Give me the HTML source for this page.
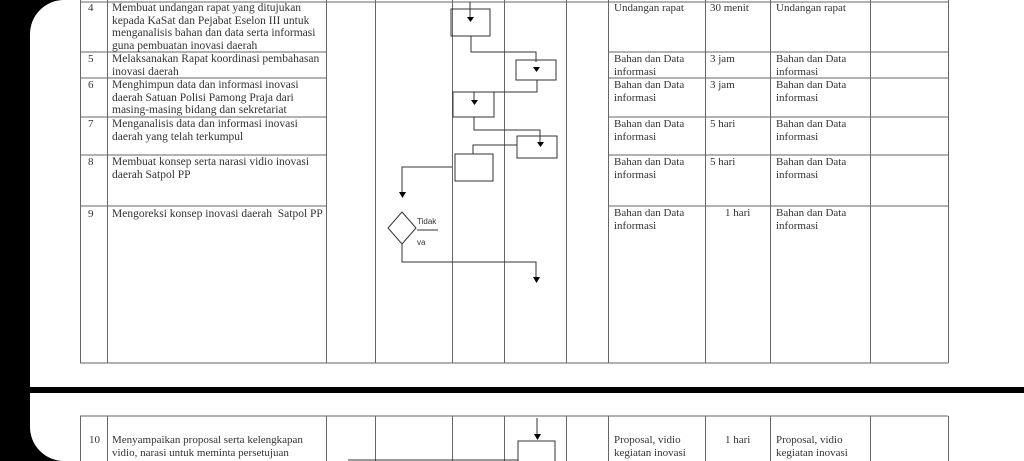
<!DOCTYPE html>
<html><head><meta charset="utf-8"><style>
html,body{margin:0;width:1024px;height:461px;overflow:hidden;}
body{background:#000;position:relative;font-family:"Liberation Serif",serif;}
.pg{position:absolute;background:#fff;}
.t{position:absolute;font-size:11px;line-height:12.5px;color:#333;white-space:nowrap;}
.l{font-size:11.5px;white-space:normal;width:212px;left:112px;}
</style></head><body>
<div class="pg" style="left:30px;top:0;width:1000px;height:387px;border-top-left-radius:34px;"></div>
<div class="pg" style="left:30px;top:393px;width:1000px;height:68px;border-bottom-left-radius:34px;"></div>
<svg width="1024" height="461" style="position:absolute;left:0;top:0" stroke="#555" stroke-width="1" fill="none">
<g stroke="#666">
<path d="M80 2H948M80 52H326M608 52H948M80 78H326M608 78H948M80 117H326M608 117H948M80 155H326M608 155H948M80 206H326M608 206H948M80 363H948"/>
<path d="M80.5 0V363M107.5 0V363M326.5 0V363M375.5 0V363M452.5 0V363M504.5 0V363M566.5 0V363M608.5 0V363M705.5 0V363M770.5 0V363M870.5 0V363M948.5 0V363"/>
<path d="M80 416H948M80.5 416V461M107.5 416V461M326.5 416V461M375.5 416V461M452.5 416V461M504.5 416V461M566.5 416V461M608.5 416V461M705.5 416V461M770.5 416V461M870.5 416V461M948.5 416V461"/>
</g>
<g stroke="#333">
<rect x="451" y="9" width="39" height="27"/>
<path d="M470 2V20M471 36V52H536V62"/>
<rect x="516" y="60" width="40" height="20"/>
<path d="M537 80V92H474V101"/>
<rect x="453" y="92" width="41" height="25"/>
<path d="M474 117V130H540V142"/>
<rect x="517" y="136" width="40" height="22"/>
<path d="M473 154V145H517"/>
<rect x="455" y="154" width="38" height="27"/>
<path d="M452 167H402V193"/>
<path d="M402 212L416 228L402 244L388 228Z"/>
<path d="M417 230H438"/>
<path d="M402 244V262H536V278"/>
<path d="M537 418V436"/>
<path d="M518 461V441H555V461M348 460H518"/>
</g>
<g fill="#000" stroke="none">
<path d="M467 17h7l-3.5 5z"/><path d="M533 67h7l-3.5 5z"/><path d="M471 100h7l-3.5 5z"/><path d="M537 142h7l-3.5 5z"/><path d="M399 192h7l-3.5 6z"/><path d="M533 277h7l-3.5 6z"/><path d="M534 434h7l-3.5 6z"/>
</g>
</svg>
<div class="t" style="left:88px;top:2px">4</div>
<div class="t l" style="top:2px">Membuat undangan rapat yang ditujukan kepada KaSat dan Pejabat Eselon III untuk menganalisis bahan dan data serta informasi guna pembuatan inovasi daerah</div>
<div class="t" style="left:88px;top:53px">5</div>
<div class="t l" style="top:53px">Melaksanakan Rapat koordinasi pembahasan inovasi daerah</div>
<div class="t" style="left:88px;top:79px">6</div>
<div class="t l" style="top:79px">Menghimpun data dan informasi inovasi daerah Satuan Polisi Pamong Praja dari masing-masing bidang dan sekretariat</div>
<div class="t" style="left:88px;top:118px">7</div>
<div class="t l" style="top:118px">Menganalisis data dan informasi inovasi daerah yang telah terkumpul</div>
<div class="t" style="left:88px;top:156px">8</div>
<div class="t l" style="top:156px">Membuat konsep serta narasi vidio inovasi daerah Satpol PP</div>
<div class="t" style="left:88px;top:208px">9</div>
<div class="t l" style="top:208px">Mengoreksi konsep inovasi daerah&nbsp; Satpol PP</div>
<div class="t" style="left:614px;top:2px">Undangan rapat</div><div class="t" style="left:710px;top:2px">30 menit</div><div class="t" style="left:776px;top:2px">Undangan rapat</div>
<div class="t" style="left:614px;top:53px">Bahan dan Data<br>informasi</div><div class="t" style="left:710px;top:53px">3 jam</div><div class="t" style="left:776px;top:53px">Bahan dan Data<br>informasi</div>
<div class="t" style="left:614px;top:79px">Bahan dan Data<br>informasi</div><div class="t" style="left:710px;top:79px">3 jam</div><div class="t" style="left:776px;top:79px">Bahan dan Data<br>informasi</div>
<div class="t" style="left:614px;top:118px">Bahan dan Data<br>informasi</div><div class="t" style="left:710px;top:118px">5 hari</div><div class="t" style="left:776px;top:118px">Bahan dan Data<br>informasi</div>
<div class="t" style="left:614px;top:156px">Bahan dan Data<br>informasi</div><div class="t" style="left:710px;top:156px">5 hari</div><div class="t" style="left:776px;top:156px">Bahan dan Data<br>informasi</div>
<div class="t" style="left:614px;top:207px">Bahan dan Data<br>informasi</div><div class="t" style="left:725px;top:207px">1 hari</div><div class="t" style="left:776px;top:207px">Bahan dan Data<br>informasi</div>
<div class="t" style="left:417px;top:216px;font-family:'Liberation Sans',sans-serif;font-size:8px">Tidak</div>
<div class="t" style="left:417px;top:237px;font-family:'Liberation Sans',sans-serif;font-size:8px">va</div>
<div class="t" style="left:89px;top:434px">10</div>
<div class="t l" style="top:434px;font-size:11px;width:200px">Menyampaikan proposal serta kelengkapan vidio, narasi untuk meminta persetujuan</div>
<div class="t" style="left:614px;top:434px">Proposal, vidio<br>kegiatan inovasi</div><div class="t" style="left:725px;top:434px">1 hari</div><div class="t" style="left:776px;top:434px">Proposal, vidio<br>kegiatan inovasi</div>
</body></html>
